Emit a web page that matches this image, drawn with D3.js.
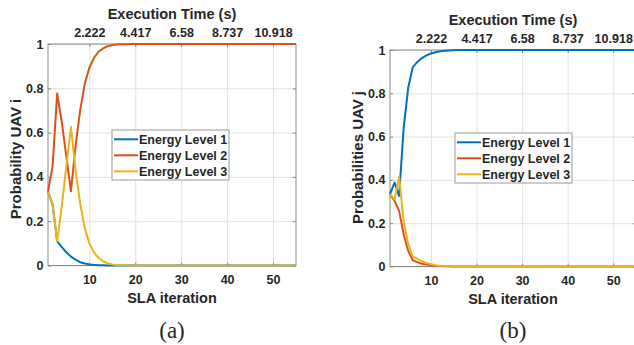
<!DOCTYPE html>
<html>
<head>
<meta charset="utf-8">
<script src="https://cdn.jsdelivr.net/npm/d3@7"></script>
<style>
  html, body { margin: 0; padding: 0; background: #fff; }
  svg { display: block; }
  text { font-family: "Liberation Sans", Arial, sans-serif; font-weight: bold; fill: #262626; }
</style>
</head>
<body>
<svg id="chart" width="634" height="345"></svg>
<script>
// ---- data ----
const iterations = d3.range(1, 56);
const seriesNames = ["Energy Level 1", "Energy Level 2", "Energy Level 3"];
const seriesColors = ["#0072BD", "#D95319", "#EDB120"];
const bottomTicks = [10, 20, 30, 40, 50];
const topTickLabels = ["2.222", "4.417", "6.58", "8.737", "10.918"];
const yTicks = [0, 0.2, 0.4, 0.6, 0.8, 1];

// panel (a): UAV i
const level1A = [
  0.333, 0.275, 0.109, 0.083, 0.060, 0.040, 0.026, 0.015, 0.009, 0.005,
  0.003, 0.0015, 0.0008, 0.0004, 0.0002, 0.0001, 0, 0, 0, 0,
  0, 0, 0, 0, 0, 0, 0, 0, 0, 0,
  0, 0, 0, 0, 0, 0, 0, 0, 0, 0,
  0, 0, 0, 0, 0, 0, 0, 0, 0, 0,
  0, 0, 0, 0, 0
];
const level2A = [
  0.333, 0.450, 0.777, 0.648, 0.490, 0.335, 0.540, 0.700, 0.820, 0.893,
  0.937, 0.965, 0.980, 0.990, 0.995, 0.9975, 0.9988, 0.9994, 0.9997, 1,
  1, 1, 1, 1, 1, 1, 1, 1, 1, 1,
  1, 1, 1, 1, 1, 1, 1, 1, 1, 1,
  1, 1, 1, 1, 1, 1, 1, 1, 1, 1,
  1, 1, 1, 1, 1
];
const level3A = [
  0.333, 0.275, 0.109, 0.267, 0.450, 0.625, 0.430, 0.280, 0.170, 0.100,
  0.060, 0.034, 0.019, 0.010, 0.005, 0.0025, 0.0012, 0.0006, 0.0003, 0,
  0, 0, 0, 0, 0, 0, 0, 0, 0, 0,
  0, 0, 0, 0, 0, 0, 0, 0, 0, 0,
  0, 0, 0, 0, 0, 0, 0, 0, 0, 0,
  0, 0, 0, 0, 0
];

// panel (b): UAV j
const level1B = [
  0.334, 0.388, 0.326, 0.640, 0.826, 0.921, 0.945, 0.963, 0.975, 0.984,
  0.990, 0.994, 0.996, 0.998, 0.999, 0.9995, 1, 1, 1, 1,
  1, 1, 1, 1, 1, 1, 1, 1, 1, 1,
  1, 1, 1, 1, 1, 1, 1, 1, 1, 1,
  1, 1, 1, 1, 1, 1, 1, 1, 1, 1,
  1, 1, 1, 1, 1
];
const level2B = [
  0.333, 0.303, 0.257, 0.149, 0.072, 0.029, 0.020, 0.013, 0.009, 0.006,
  0.004, 0.0025, 0.0015, 0.0008, 0.0004, 0.0002, 0, 0, 0, 0,
  0, 0, 0, 0, 0, 0, 0, 0, 0, 0,
  0, 0, 0, 0, 0, 0, 0, 0, 0, 0,
  0, 0, 0, 0, 0, 0, 0, 0, 0, 0,
  0, 0, 0, 0, 0
];
const level3B = [
  0.333, 0.310, 0.414, 0.210, 0.103, 0.046, 0.035, 0.024, 0.016, 0.010,
  0.006, 0.0035, 0.0025, 0.0012, 0.0006, 0.0003, 0, 0, 0, 0,
  0, 0, 0, 0, 0, 0, 0, 0, 0, 0,
  0, 0, 0, 0, 0, 0, 0, 0, 0, 0,
  0, 0, 0, 0, 0, 0, 0, 0, 0, 0,
  0, 0, 0, 0, 0
];

// ---- layout ----
const panels = [
  {
    left: 48, right: 296, top: 44, bottom: 265.5,
    series: [level1A, level2A, level3A],
    yLabel: "Probability UAV i", yLabelX: 20.5, yLabelY: 159,
    legendX: 112, legendY: 130, caption: "(a)"
  },
  {
    left: 390, right: 636, top: 50, bottom: 266.5,
    series: [level1B, level2B, level3B],
    yLabel: "Probabilities UAV j", yLabelX: 362.5, yLabelY: 157.5,
    legendX: 455, legendY: 133, caption: "(b)"
  }
];

const svg = d3.select("#chart");
const boxColor = "#8a8a8a";
const gridColor = "#e2e2e2";
const tickFont = "12.5px";
const labelFont = "14.5px";

function drawPanel(p) {
  const g = svg.append("g");
  const w = p.right - p.left;
  const h = p.bottom - p.top;
  const cx = (p.left + p.right) / 2;

  const x = d3.scaleLinear().domain([1, 55]).range([p.left, p.right]);
  const y = d3.scaleLinear().domain([0, 1]).range([p.bottom, p.top]);

  // grid
  g.append("g")
    .attr("transform", `translate(0,${p.bottom})`)
    .call(d3.axisBottom(x).tickValues(bottomTicks).tickSize(-h).tickFormat(""))
    .call(s => s.select(".domain").remove())
    .selectAll("line").attr("stroke", gridColor);
  g.append("g")
    .attr("transform", `translate(${p.left},0)`)
    .call(d3.axisLeft(y).tickValues(yTicks).tickSize(-w).tickFormat(""))
    .call(s => s.select(".domain").remove())
    .selectAll("line").attr("stroke", gridColor);

  // axes (ticks pointing inward)
  const styleAxis = s => {
    s.select(".domain").remove();
    s.selectAll("line").attr("stroke", boxColor);
    s.selectAll("text").style("font-size", tickFont).attr("fill", "#262626");
  };
  g.append("g")
    .attr("transform", `translate(0,${p.bottom})`)
    .call(d3.axisBottom(x).tickValues(bottomTicks).tickSize(-3).tickPadding(9.6))
    .call(styleAxis);
  g.append("g")
    .attr("transform", `translate(0,${p.top})`)
    .call(d3.axisTop(x).tickValues(bottomTicks).tickSize(-3).tickPadding(7.2)
      .tickFormat((d, i) => topTickLabels[i]))
    .call(styleAxis);
  g.append("g")
    .attr("transform", `translate(${p.left},0)`)
    .call(d3.axisLeft(y).tickValues(yTicks).tickSize(-3).tickPadding(4.5)
      .tickFormat(d3.format("~g")))
    .call(styleAxis);
  g.append("g")
    .attr("transform", `translate(${p.right},0)`)
    .call(d3.axisRight(y).tickValues(yTicks).tickSize(-3).tickFormat(""))
    .call(styleAxis);

  // box
  g.append("rect")
    .attr("x", p.left).attr("y", p.top)
    .attr("width", w).attr("height", h)
    .attr("fill", "none").attr("stroke", boxColor).attr("stroke-width", 1);

  // lines
  const line = d3.line()
    .x((d, i) => x(iterations[i]))
    .y(d => y(d));
  p.series.forEach((vals, k) => {
    g.append("path")
      .datum(vals)
      .attr("d", line)
      .attr("fill", "none")
      .attr("stroke", seriesColors[k])
      .attr("stroke-width", 2)
      .attr("stroke-linejoin", "round");
  });

  // labels
  g.append("text")
    .attr("x", cx).attr("y", p.top - 25.3)
    .attr("text-anchor", "middle").style("font-size", labelFont)
    .text("Execution Time (s)");
  g.append("text")
    .attr("x", cx).attr("y", p.bottom + 37.5)
    .attr("text-anchor", "middle").style("font-size", labelFont)
    .text("SLA iteration");
  g.append("text")
    .attr("transform", `translate(${p.yLabelX},${p.yLabelY}) rotate(-90)`)
    .attr("text-anchor", "middle").style("font-size", "15px")
    .text(p.yLabel);
  g.append("text")
    .attr("x", cx).attr("y", 337.5)
    .attr("text-anchor", "middle")
    .style("font-family", "'Liberation Serif', 'Times New Roman', serif")
    .style("font-weight", "normal")
    .style("font-size", "23px")
    .text(p.caption);

  // legend
  const lg = g.append("g").attr("transform", `translate(${p.legendX},${p.legendY})`);
  lg.append("rect")
    .attr("width", 117).attr("height", 50)
    .attr("fill", "#fff").attr("stroke", "#999").attr("stroke-width", 1);
  seriesNames.forEach((name, k) => {
    const ry = 9.3 + k * 16;
    lg.append("line")
      .attr("x1", 2).attr("x2", 26).attr("y1", ry).attr("y2", ry)
      .attr("stroke", seriesColors[k]).attr("stroke-width", 2);
    lg.append("text")
      .attr("x", 27).attr("y", ry).attr("dy", "0.36em")
      .style("font-size", tickFont)
      .text(name);
  });
}

panels.forEach(drawPanel);
</script>
</body>
</html>
